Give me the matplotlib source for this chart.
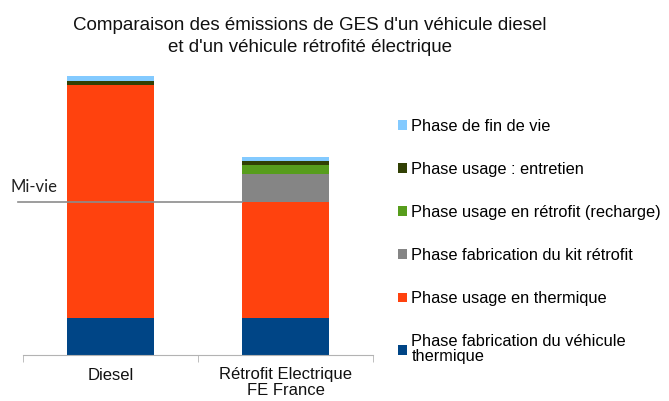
import matplotlib.pyplot as plt
from matplotlib.patches import Patch

plt.rcParams['font.family'] = ['Liberation Sans', 'DejaVu Sans']

# Données (unités arbitraires)
categories = ["Diesel", "Rétrofit Electrique\nFE France"]
fab_vehicule = [37, 37]
usage_thermique = [233, 116.5]
kit_retrofit = [0, 28]
usage_retrofit = [0, 8.3]
entretien = [4.5, 4.7]
fin_de_vie = [4.5, 3.7]
mi_vie = 153.5

series = [
    ("Phase fabrication du véhicule\nthermique", fab_vehicule, "#004586"),
    ("Phase usage en thermique", usage_thermique, "#ff420e"),
    ("Phase fabrication du kit rétrofit", kit_retrofit, "#858585"),
    ("Phase usage en rétrofit (recharge)", usage_retrofit, "#579d1c"),
    ("Phase usage : entretien", entretien, "#314004"),
    ("Phase de fin de vie", fin_de_vie, "#83caff"),
]

fig = plt.figure(figsize=(6.69, 4.01), dpi=100)
ax = fig.add_axes([23/669, 1 - 355/401, 350/669, 295/401])

x = range(len(categories))
bottom = [0, 0]
for label, vals, col in series:
    ax.bar(x, vals, 0.5, bottom=bottom, color=col, edgecolor='none', zorder=2)
    bottom = [b + v for b, v in zip(bottom, vals)]

# ligne mi-vie
ax.plot([-0.53, 0.75], [mi_vie, mi_vie], color='#8c8c8c', lw=1.2, zorder=3, clip_on=False)
ax.text(-0.57, mi_vie + 6, "Mi-vie", fontsize=12, family=['Lato', 'DejaVu Sans'],
        color='#222222', va='bottom', ha='left')

ax.set_xlim(-0.5, 1.5)
ax.set_ylim(0, 295)
ax.set_yticks([])
for s in ['top', 'right', 'left']:
    ax.spines[s].set_visible(False)
ax.spines['bottom'].set_color('#b3b3b3')
ax.set_xticks(list(x))
ax.set_xticklabels(categories, fontsize=12, color='#111111', linespacing=1.05)
ax.tick_params(axis='x', which='major', length=0, pad=9)
ax.set_xticks([-0.5, 0.5, 1.5], minor=True)
ax.tick_params(axis='x', which='minor', length=5, color='#b3b3b3')

fig.text(0.463, 0.957, "Comparaison des émissions de GES d'un véhicule diesel\net d'un véhicule rétrofité électrique",
         ha='center', va='top', fontsize=13.5, linespacing=1.4, color='#111111')

handles = [Patch(facecolor=col, edgecolor='none') for _, _, col in series][::-1]
labels = [lab for lab, _, _ in series][::-1]
leg = fig.legend(handles, labels, loc='upper left', bbox_to_anchor=(391/669, 1 - 112/401),
                 frameon=False, fontsize=11.8, handlelength=0.55, handleheight=0.55,
                 handletextpad=0.3, labelspacing=1.72, borderaxespad=0)
for t in leg.get_texts():
    t.set_linespacing(1.0)

fig.savefig("out.png", dpi=100)
